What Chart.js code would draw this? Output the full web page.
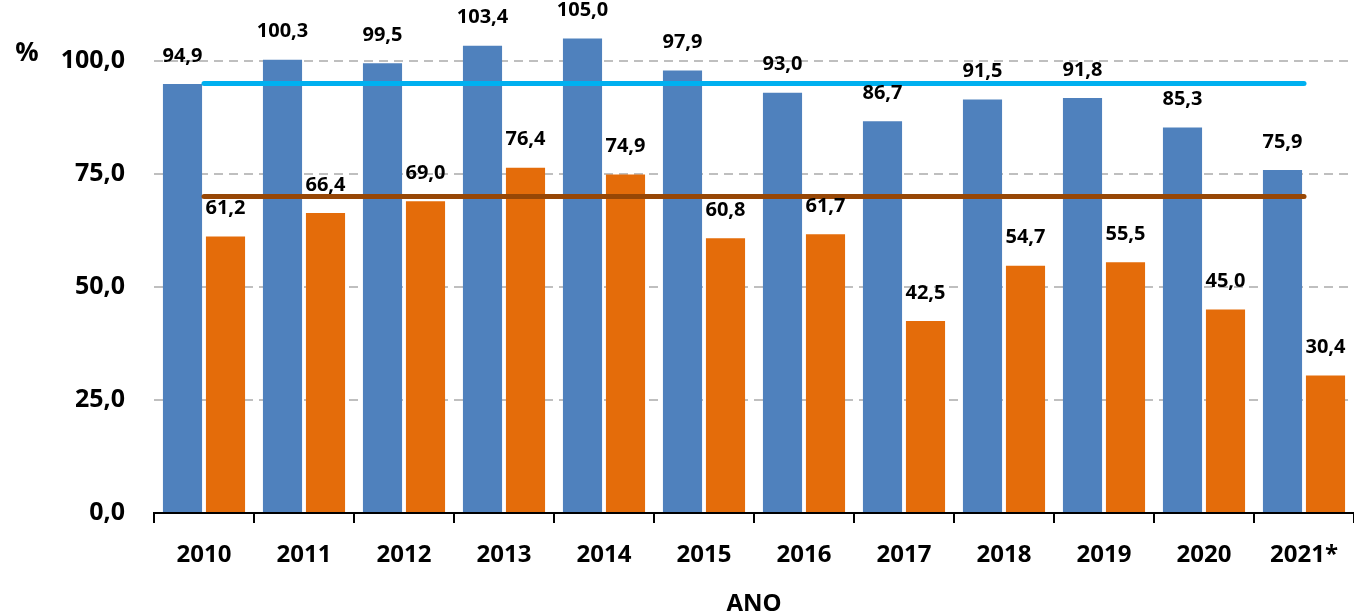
<!DOCTYPE html>
<html>
<head>
<meta charset="utf-8">
<script src="https://cdn.jsdelivr.net/npm/chart.js@4/dist/chart.umd.min.js"></script>
<style>
  html, body { margin: 0; padding: 0; background: #fff; }
  #wrap { width: 1354px; height: 611px; position: relative; }
</style>
</head>
<body>
<div id="wrap"><canvas id="chart"></canvas></div>
<script>
// data
const years = ['2010', '2011', '2012', '2013', '2014', '2015', '2016', '2017', '2018', '2019', '2020', '2021*'];
const blueValues = [94.9, 100.3, 99.5, 103.4, 105.0, 97.9, 93.0, 86.7, 91.5, 91.8, 85.3, 75.9];
const orangeValues = [61.2, 66.4, 69.0, 76.4, 74.9, 60.8, 61.7, 42.5, 54.7, 55.5, 45.0, 30.4];
const blueRef = [95, 95, 95, 95, 95, 95, 95, 95, 95, 95, 95, 95];
const brownRef = [70, 70, 70, 70, 70, 70, 70, 70, 70, 70, 70, 70];
const yTicks = [0, 25, 50, 75, 100];

const FONT = "'Open Sans', Lato, sans-serif";
const fmt = v => v.toFixed(1).replace('.', ',');

// value labels above the bars + the "%" mark
const labelPlugin = {
  id: 'barLabels',
  afterDatasetsDraw(chart) {
    const ctx = chart.ctx;
    ctx.save();
    ctx.font = `bold 20px ${FONT}`;
    ctx.fillStyle = '#000';
    ctx.textAlign = 'center';
    ctx.textBaseline = 'middle';
    chart.data.datasets.forEach((ds, i) => {
      if (ds.type === 'line') return;
      chart.getDatasetMeta(i).data.forEach((bar, j) => {
        ctx.fillText(fmt(ds.data[j]), bar.x, bar.y - 28);
      });
    });
    ctx.font = `bold 26px ${FONT}`;
    ctx.fillText('%', 27, 54);
    ctx.restore();
  }
};

new Chart(document.getElementById('chart'), {
  type: 'bar',
  data: {
    labels: years,
    datasets: [
      {
        type: 'line',
        data: blueRef,
        borderColor: '#00B0F0',
        borderWidth: 5,
        borderCapStyle: 'round',
        pointRadius: 0,
        order: 0
      },
      {
        type: 'line',
        data: brownRef,
        borderColor: '#974706',
        borderWidth: 5,
        borderCapStyle: 'round',
        pointRadius: 0,
        order: 0
      },
      {
        data: blueValues,
        backgroundColor: '#4F81BD',
        categoryPercentage: 0.86,
        barPercentage: 0.91,
        order: 1
      },
      {
        data: orangeValues,
        backgroundColor: '#E46C0A',
        categoryPercentage: 0.86,
        barPercentage: 0.91,
        order: 1
      }
    ]
  },
  options: {
    responsive: true,
    maintainAspectRatio: false,
    animation: false,
    layout: { padding: 0 },
    plugins: {
      legend: { display: false },
      tooltip: { enabled: false }
    },
    scales: {
      x: {
        grid: {
          offset: true,
          drawOnChartArea: false,
          drawTicks: true,
          tickLength: 10,
          color: '#000',
          lineWidth: 2
        },
        border: { display: true, color: '#000', width: 2 },
        ticks: {
          color: '#000',
          font: { family: FONT, size: 24, weight: 'bold' },
          padding: 18,
          maxRotation: 0
        },
        title: {
          display: true,
          text: 'ANO',
          color: '#000',
          font: { family: FONT, size: 24, weight: 'bold', lineHeight: 0.6 },
          padding: 0
        },
        afterFit(scale) {
          scale.height = 98;
          scale.paddingLeft = 0;
          scale.paddingRight = 0;
        }
      },
      y: {
        min: 0,
        max: 113.5,
        border: { display: false, dash: [9, 6] },
        grid: {
          drawTicks: false,
          color: '#BFBFBF',
          lineWidth: 2
        },
        ticks: {
          stepSize: 25,
          color: '#000',
          padding: 29,
          font: { family: FONT, size: 25, weight: 'bold' },
          callback: v => fmt(v)
        },
        afterBuildTicks(scale) {
          scale.ticks = yTicks.map(v => ({ value: v }));
        },
        afterFit(scale) {
          scale.width = 154;
          scale.paddingTop = 0;
          scale.paddingBottom = 0;
        }
      }
    }
  },
  plugins: [labelPlugin]
});
</script>
</body>
</html>
